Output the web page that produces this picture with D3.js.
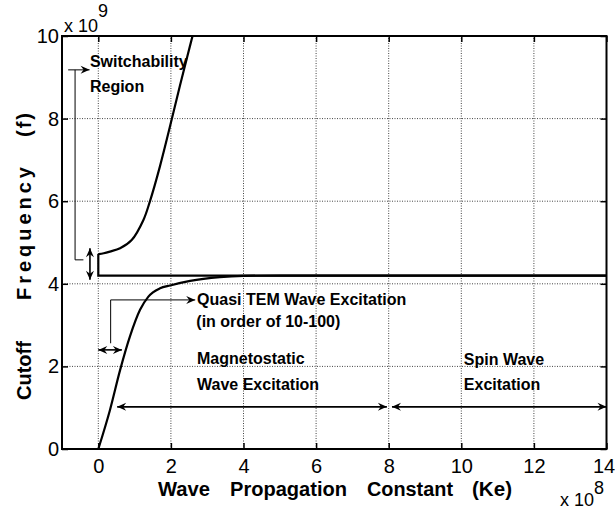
<!DOCTYPE html>
<html>
<head>
<meta charset="utf-8">
<script src="https://cdn.jsdelivr.net/npm/d3@7"></script>
<style>
  body { margin: 0; background: #fff; }
  svg { display: block; font-family: "Liberation Sans", Arial, Helvetica, sans-serif; }
</style>
</head>
<body>
<div id="chart"></div>
<script>
// tick values (x in 1e8, y in 1e9)
const xTicks = [0, 2, 4, 6, 8, 10, 12, 14]
const yTicks = [0, 2, 4, 6, 8, 10]

// upper branch
const upperK = [0, 0.15, 0.32, 0.6, 0.92, 1.24, 1.42, 1.7, 2.02, 2.25, 2.45, 2.64]
const upperF = [4.72, 4.74, 4.78, 4.86, 5.06, 5.54, 5.99, 6.85, 7.97, 8.8, 9.5, 10.15]

// lower branch
const lowerK = [0, 0.32, 0.6, 0.87, 1.15, 1.38, 1.7, 1.98, 2.53, 3.35, 4.0, 5.0, 14]
const lowerF = [0, 0.94, 1.91, 2.72, 3.37, 3.69, 3.89, 3.96, 4.07, 4.16, 4.19, 4.2, 4.2]

// asymptote with the jump at k = 0
const asymK = [0, 0, 14]
const asymF = [4.72, 4.2, 4.2]

const width = 615, height = 509
const margin = { left: 62, right: 8.5, top: 36, bottom: 60 }

const svg = d3.select('#chart').append('svg')
    .attr('width', width)
    .attr('height', height)

const x = d3.scaleLinear().domain([-1, 14]).range([margin.left, width - margin.right])
const y = d3.scaleLinear().domain([0, 10]).range([height - margin.bottom, margin.top])

const defs = svg.append('defs')
defs.append('clipPath').attr('id', 'clip')
  .append('rect')
    .attr('x', x(-1)).attr('y', y(10))
    .attr('width', x(14) - x(-1)).attr('height', y(0) - y(10))

defs.append('marker')
    .attr('id', 'head')
    .attr('viewBox', '-10 -5 11 10')
    .attr('refX', 0).attr('refY', 0)
    .attr('markerWidth', 11).attr('markerHeight', 10)
    .attr('markerUnits', 'userSpaceOnUse')
    .attr('orient', 'auto-start-reverse')
  .append('path')
    .attr('d', 'M0,0 L-9,-4 L-6,0 L-9,4 Z')
    .attr('fill', '#000')

// grid
const grid = svg.append('g')
grid.selectAll('line.gx')
  .data(xTicks.filter(d => d > -1 && d < 14))
  .enter().append('line')
    .attr('x1', d => x(d)).attr('x2', d => x(d))
    .attr('y1', y(0)).attr('y2', y(10))
    .attr('stroke', '#444')
    .attr('stroke-width', 1)
    .attr('stroke-dasharray', '1,1.5')
grid.selectAll('line.gy')
  .data(yTicks.filter(d => d > 0 && d < 10))
  .enter().append('line')
    .attr('y1', d => y(d)).attr('y2', d => y(d))
    .attr('x1', x(-1)).attr('x2', x(14))
    .attr('stroke', '#444')
    .attr('stroke-width', 1)
    .attr('stroke-dasharray', '1,1.5')

// axes (MATLAB style: inward ticks on all four sides)
const tickLen = 6
svg.append('g')
    .attr('transform', 'translate(0,' + y(0) + ')')
    .call(d3.axisBottom(x).tickValues(xTicks).tickSizeInner(-tickLen).tickSizeOuter(0).tickPadding(10))
svg.append('g')
    .attr('transform', 'translate(0,' + y(10) + ')')
    .call(d3.axisTop(x).tickValues(xTicks).tickSizeInner(-tickLen).tickSizeOuter(0).tickFormat(''))
svg.append('g')
    .attr('transform', 'translate(' + x(-1) + ',0)')
    .call(d3.axisLeft(y).tickValues(yTicks).tickSizeInner(-tickLen).tickSizeOuter(0).tickPadding(3))
svg.append('g')
    .attr('transform', 'translate(' + x(14) + ',0)')
    .call(d3.axisRight(y).tickValues(yTicks).tickSizeInner(-tickLen).tickSizeOuter(0).tickFormat(''))

svg.selectAll('.domain').remove()
svg.selectAll('.tick line').attr('stroke', '#000').attr('stroke-width', 1.5)
svg.selectAll('.tick text')
    .attr('font-family', '"Liberation Sans", Arial, sans-serif')
    .attr('font-size', 20)
    .attr('fill', '#000')
// last x label sits on the window edge
svg.selectAll('.tick text').filter(d => d === 14).attr('dx', -3)

// box
svg.append('rect')
    .attr('x', x(-1)).attr('y', y(10))
    .attr('width', x(14) - x(-1)).attr('height', y(0) - y(10))
    .attr('fill', 'none')
    .attr('stroke', '#000')
    .attr('stroke-width', 2)

// curves
const plot = svg.append('g').attr('clip-path', 'url(#clip)')
const smooth = d3.line().x(d => x(d[0])).y(d => y(d[1])).curve(d3.curveCatmullRom.alpha(0.5))
const straight = d3.line().x(d => x(d[0])).y(d => y(d[1]))

plot.append('path')
    .datum(upperK.map((k, i) => [k, upperF[i]]))
    .attr('d', smooth)
    .attr('fill', 'none').attr('stroke', '#000').attr('stroke-width', 2.2)
plot.append('path')
    .datum(lowerK.map((k, i) => [k, lowerF[i]]))
    .attr('d', d3.line().x(d => x(d[0])).y(d => y(d[1])).curve(d3.curveMonotoneX))
    .attr('fill', 'none').attr('stroke', '#000').attr('stroke-width', 2.2)
plot.append('path')
    .datum(asymK.map((k, i) => [k, asymF[i]]))
    .attr('d', straight)
    .attr('fill', 'none').attr('stroke', '#000').attr('stroke-width', 2.2)

// annotations (data units)
const ann = svg.append('g')
function seg(pts, w, start, end) {
    const p = ann.append('path')
        .attr('d', straight(pts))
        .attr('fill', 'none').attr('stroke', '#000').attr('stroke-width', w)
    if (start) p.attr('marker-start', 'url(#head)')
    if (end) p.attr('marker-end', 'url(#head)')
}
// switchability bracket
seg([[-0.41, 4.58], [-0.64, 4.58], [-0.64, 9.18]], 1, false, false)
seg([[-0.83, 9.18], [-0.24, 9.18]], 1, false, true)
seg([[-0.23, 4.86], [-0.23, 4.1]], 1.6, true, true)
// quasi TEM
seg([[0.34, 2.56], [0.34, 3.61], [2.67, 3.61]], 1, false, true)
seg([[0.0, 2.4], [0.65, 2.4]], 1.6, true, true)
// magnetostatic / spin wave ranges
seg([[0.52, 1.02], [7.95, 1.02]], 1.6, true, true)
seg([[8.09, 1.02], [14.0, 1.02]], 1.6, true, true)

const notes = [
    ['Switchability', -0.23, 9.26],
    ['Region', -0.23, 8.65],
    ['Quasi TEM Wave Excitation', 2.72, 3.49],
    ['(in order of 10-100)', 2.70, 2.96],
    ['Magnetostatic', 2.72, 2.07],
    ['Wave Excitation', 2.72, 1.43],
    ['Spin Wave', 10.07, 2.03],
    ['Excitation', 10.07, 1.43]
]
ann.selectAll('text')
  .data(notes)
  .enter().append('text')
    .attr('x', d => x(d[1]))
    .attr('y', d => y(d[2]))
    .attr('font-size', 16)
    .attr('font-weight', 'bold')
    .text(d => d[0])

// axis labels
const xWords = [['Wave', 158, 52], ['Propagation', 230, 117], ['Constant', 367, 86], ['(Ke)', 472, 40]]
svg.append('g').selectAll('text')
  .data(xWords)
  .enter().append('text')
    .attr('x', d => d[1])
    .attr('y', 496)
    .attr('font-size', 20)
    .attr('font-weight', 'bold')
    .attr('textLength', d => d[2])
    .attr('lengthAdjust', 'spacingAndGlyphs')
    .text(d => d[0])

const yWords = [['Cutoff', 400, null], ['Frequency', 300, 133], ['(f)', 137, 24]]
const yl = svg.append('g').selectAll('text')
  .data(yWords)
  .enter().append('text')
    .attr('transform', d => 'translate(31,' + d[1] + ') rotate(-90)')
    .attr('font-size', 20)
    .attr('font-weight', 'bold')
    .text(d => d[0])
yl.filter(d => d[2]).attr('textLength', d => d[2]).attr('lengthAdjust', 'spacing')

// exponent labels
const e9 = svg.append('text').attr('x', 64).attr('y', 32).attr('font-size', 18)
e9.append('tspan').text('x 10')
e9.append('tspan').attr('dy', -15).text('9')
const e8 = svg.append('text').attr('x', 560).attr('y', 506).attr('font-size', 18)
e8.append('tspan').text('x 10')
e8.append('tspan').attr('dy', -12).text('8')
</script>
</body>
</html>
